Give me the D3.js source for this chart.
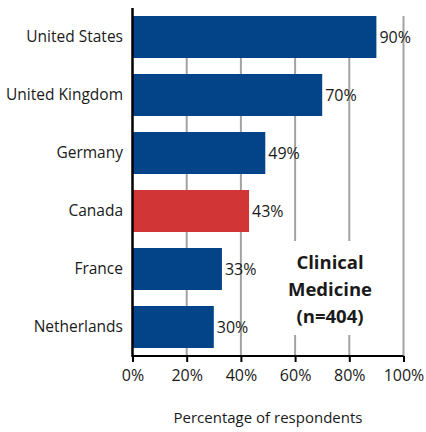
<!DOCTYPE html>
<html>
<head>
<meta charset="utf-8">
<script src="https://cdn.jsdelivr.net/npm/d3@7"></script>
<style>
  body { margin: 0; background: #fff; }
  svg { display: block; font-family: "Open Sans", "Noto Sans", sans-serif; }
</style>
</head>
<body>
<div id="main"></div>
<script>
const countries = ['United States', 'United Kingdom', 'Germany', 'Canada', 'France', 'Netherlands'];
const values = [90, 70, 49, 43, 33, 30];
const highlight = ['Canada'];
const ticks = [0, 20, 40, 60, 80, 100];
const boxLines = ['Clinical', 'Medicine', '(n=404)'];
const axisTitle = 'Percentage of respondents';

const width = 426, height = 432;
const svg = d3.select('#main').append('svg').attr('width', width).attr('height', height);

let x = d3.scaleLinear().domain([0, 100]).range([132.5, 403.5]);
let y = d3.scaleBand().domain(countries).range([8, 356])
    .paddingInner(16 / 58).paddingOuter(8 / 58);

// gridlines
svg.append('g').selectAll('line').data(ticks.slice(1)).join('line')
    .attr('x1', d => x(d)).attr('x2', d => x(d))
    .attr('y1', 16).attr('y2', 356)
    .style('stroke', '#a3a3a3').style('stroke-width', '2px');

// label box hides the grid
svg.append('rect').attr('x', 286).attr('y', 241).attr('width', 80).attr('height', 94).attr('fill', '#fff');

svg.append('g').selectAll('rect').data(countries).join('rect')
    .attr('x', x(0))
    .attr('y', d => y(d))
    .attr('width', (d, i) => x(values[i]) - x(0))
    .attr('height', y.bandwidth())
    .attr('fill', d => highlight.includes(d) ? '#d13535' : '#034387');

svg.append('g').selectAll('text').data(countries).join('text')
    .attr('x', (d, i) => x(values[i]) + 3)
    .attr('y', d => y(d) + y.bandwidth() / 2)
    .attr('dy', '0.35em')
    .style('font-size', '16px').style('fill', '#1a1a1a')
    .text((d, i) => values[i] + '%');

// category labels
svg.append('g').selectAll('text').data(countries).join('text')
    .attr('x', 123)
    .attr('y', d => y(d) + y.bandwidth() / 2)
    .attr('dy', '0.35em')
    .style('text-anchor', 'end')
    .style('font-size', '15.5px').style('fill', '#1a1a1a')
    .text(d => d);

// axes
let xAxis = svg.append('g').attr('transform', 'translate(0,356)')
    .call(d3.axisBottom(x).tickValues(ticks).tickSize(6).tickPadding(8).tickFormat(d => d + '%'));
xAxis.select('.domain').attr('d', `M${x(0)},0H${x(100)}`).style('stroke', '#000').style('stroke-width', '2px');
xAxis.selectAll('.tick line').style('stroke', '#000').style('stroke-width', '2px');
xAxis.selectAll('.tick text').style('font-size', '16px').style('font-family', '"Open Sans", sans-serif').style('fill', '#1a1a1a');

svg.append('line').attr('x1', x(0)).attr('x2', x(0)).attr('y1', 8).attr('y2', 357)
    .style('stroke', '#000').style('stroke-width', '2.5px');

svg.append('text').attr('x', 268).attr('y', 423)
    .style('text-anchor', 'middle').style('font-size', '15px').style('fill', '#1a1a1a')
    .text(axisTitle);

svg.append('g').selectAll('text').data(boxLines).join('text')
    .attr('x', 330).attr('y', (d, i) => 269 + i * 27)
    .style('text-anchor', 'middle').style('font-size', '18.5px').style('font-weight', 'bold').style('fill', '#1a1a1a')
    .text(d => d);
</script>
</body>
</html>
